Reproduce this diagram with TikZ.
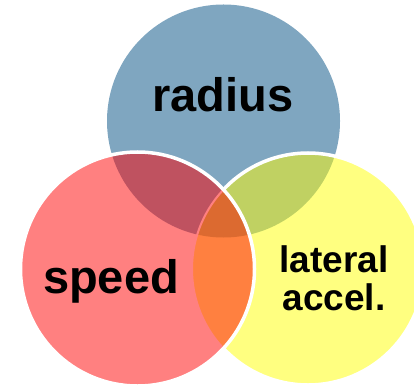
\documentclass[tikz,border=0pt]{standalone}
\usepackage{fontspec}
\setmainfont{Liberation Sans}
\definecolor{cblue}{RGB}{127,166,192}
\definecolor{cred}{RGB}{255,128,128}
\definecolor{cyellow}{RGB}{255,255,128}
\definecolor{cgreen}{RGB}{192,209,98}
\definecolor{cdred}{RGB}{191,82,96}
\definecolor{corange}{RGB}{255,128,64}
\definecolor{cdorange}{RGB}{220,106,48}
\tikzset{
  border/.style={draw=white, line width=3.5pt},
  big/.style={font=\bfseries\fontsize{47}{50}\selectfont, anchor=base, inner sep=0pt},
  mid/.style={font=\bfseries\fontsize{37}{40}\selectfont, anchor=base, inner sep=0pt},
}
\begin{document}
\begin{tikzpicture}[x=1pt,y=-1pt]
\useasboundingbox (0,0) rectangle (414,387);
\coordinate (B) at (223.5,121);
\coordinate (R) at (137.5,269);
\coordinate (Y) at (308,269);
\def\rb{116.5pt}
\def\rr{117pt}
\def\ry{116pt}
\fill[cblue] (B) circle[radius=\rb];
\fill[cyellow] (Y) circle[radius=\ry];
\begin{scope}
  \clip (Y) circle[radius=\ry];
  \fill[cgreen] (B) circle[radius=\rb];
\end{scope}
\path[border] (Y) circle[radius=\ry];
\fill[cred] (R) circle[radius=\rr];
\begin{scope}
  \clip (R) circle[radius=\rr];
  \fill[cdred] (B) circle[radius=\rb];
  \fill[corange] (Y) circle[radius=\ry];
  \clip (B) circle[radius=\rb];
  \fill[cdorange] (Y) circle[radius=\ry];
\end{scope}
\begin{scope}
  \clip (R) circle[radius=\rr];
  \draw[cred, line width=2pt] (Y) circle[radius=\ry];
\end{scope}
\path[border] (R) circle[radius=\rr];
\node[big] (radius) at (223,112) {radius};
\node[big] (speed) at (111,293) {speed};
\node[mid] (lat1) at (334,272) {lateral};
\node[mid] (lat2) at (334,310) {accel.};
\end{tikzpicture}
\end{document}
